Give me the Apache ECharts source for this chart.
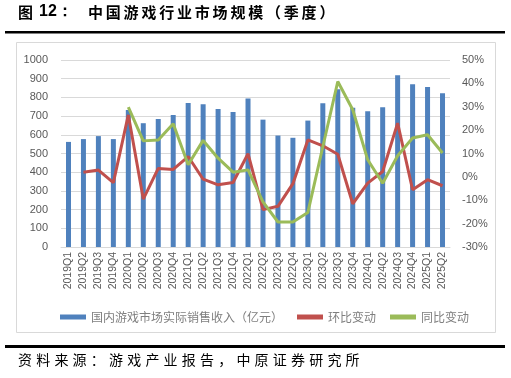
<!DOCTYPE html>
<html>
<head>
<meta charset="utf-8">
<script src="https://cdn.jsdelivr.net/npm/echarts@6/dist/echarts.min.js"></script>
<style>
  html, body { margin: 0; padding: 0; background: #fff; }
  #chart { width: 511px; height: 378px; }
</style>
</head>
<body>
<div id="chart"></div>
<script>
// quarters on the x axis
const quarters = [
  '2019Q1', '2019Q2', '2019Q3', '2019Q4', '2020Q1', '2020Q2', '2020Q3', '2020Q4',
  '2021Q1', '2021Q2', '2021Q3', '2021Q4', '2022Q1', '2022Q2', '2022Q3', '2022Q4',
  '2023Q1', '2023Q2', '2023Q3', '2023Q4', '2024Q1', '2024Q2', '2024Q3', '2024Q4',
  '2025Q1', '2025Q2'
];
// 国内游戏市场实际销售收入（亿元）
const revenue = [562, 577, 593, 577, 733, 662, 685, 706, 770, 763, 738, 722, 794,
  681, 596, 584, 676, 769, 843, 744, 726, 747, 918, 870, 856, 822];
// 环比变动 (%)
const qoq = [null, 2.0, 2.9, -2.5, 26.5, -9.5, 3.6, 3.2, 8.7, -1.0, -3.4, -2.4, 9.9,
  -14.0, -12.6, -2.9, 15.8, 13.3, 9.7, -11.5, -2.7, 2.3, 23.0, -5.5, -1.2, -3.8];
// 同比变动 (%)
const yoy = [null, null, null, null, 29.8, 15.4, 15.8, 22.7, 5.2, 15.6, 8.0, 2.0, 3.0,
  -10.7, -19.3, -19.3, -15.2, 12.9, 40.8, 28.7, 7.3, -2.7, 9.0, 16.6, 18.0, 10.2];

const chart = echarts.init(document.getElementById('chart'));

// lay out CJK text with a fixed advance, the source uses wide spacing
function spaced(str, x, y, step, style) {
  return str.split('').map((ch, i) => ({
    type: 'text', left: x + i * step, top: y,
    style: Object.assign({ text: ch }, style)
  }));
}

const titleFont = { font: 'bold 15px "Noto Sans CJK SC"', fill: '#000' };
const srcFont = { font: '14px "Noto Sans CJK SC"', fill: '#000' };

const options = {
  animation: false,
  backgroundColor: '#fff',
  textStyle: { fontFamily: '"Noto Sans CJK SC", "Liberation Sans", sans-serif' },
  graphic: [
    { type: 'text', left: 18, top: 5, style: Object.assign({ text: '图' }, titleFont) },
    { type: 'text', left: 39, top: 4, style: { text: '12：', font: 'bold 16px "Liberation Sans"', fill: '#000' } },
    ...spaced('中国游戏行业市场规模（季度）', 88, 5, 17.8, titleFont),
    { type: 'rect', shape: { x: 5, y: 31, width: 500, height: 2.5 }, style: { fill: '#000' } },
    { type: 'rect', shape: { x: 16.5, y: 42.5, width: 479, height: 290 }, style: { fill: 'none', stroke: '#d9d9d9', lineWidth: 1 }, z: -1 },
    { type: 'rect', shape: { x: 5, y: 345, width: 500, height: 3 }, style: { fill: '#000' } },
    ...spaced('资料来源：游戏产业报告，中原证券研究所', 18, 353, 18.2, srcFont)
  ],
  legend: {
    left: 55,
    top: 306,
    itemWidth: 26,
    itemHeight: 5,
    itemGap: 14,
    icon: 'rect',
    textStyle: { color: '#7f7f7f', fontSize: 12 },
    data: ['国内游戏市场实际销售收入（亿元）', '环比变动', '同比变动']
  },
  grid: { left: 61, right: 61, top: 60, bottom: 131, containLabel: false },
  xAxis: {
    type: 'category',
    data: quarters,
    axisTick: { show: false },
    axisLine: { lineStyle: { color: '#d9d9d9' } },
    axisLabel: { rotate: 90, color: '#595959', fontSize: 10.5, interval: 0, margin: 5,
      fontFamily: '"Liberation Sans", sans-serif' }
  },
  yAxis: [
    {
      type: 'value', min: 0, max: 1000, interval: 100,
      axisLabel: { color: '#595959', fontSize: 11, margin: 13, formatter: v => String(v),
        fontFamily: '"Liberation Sans", sans-serif' },
      axisLine: { show: false }, axisTick: { show: false },
      splitLine: { lineStyle: { color: '#d9d9d9' } }
    },
    {
      type: 'value', min: -30, max: 50, interval: 10,
      axisLabel: { color: '#595959', fontSize: 11, margin: 12, formatter: '{value}%',
        fontFamily: '"Liberation Sans", sans-serif' },
      axisLine: { show: false }, axisTick: { show: false },
      splitLine: { show: false }
    }
  ],
  series: [
    {
      name: '国内游戏市场实际销售收入（亿元）', type: 'bar', data: revenue,
      barWidth: 5, itemStyle: { color: '#4f81bd' }
    },
    {
      name: '环比变动', type: 'line', yAxisIndex: 1, data: qoq,
      symbol: 'none', lineStyle: { color: '#c0504d', width: 3 }, itemStyle: { color: '#c0504d' }
    },
    {
      name: '同比变动', type: 'line', yAxisIndex: 1, data: yoy,
      symbol: 'none', lineStyle: { color: '#9bbb59', width: 3 }, itemStyle: { color: '#9bbb59' }
    }
  ]
};

chart.setOption(options);
</script>
</body>
</html>
